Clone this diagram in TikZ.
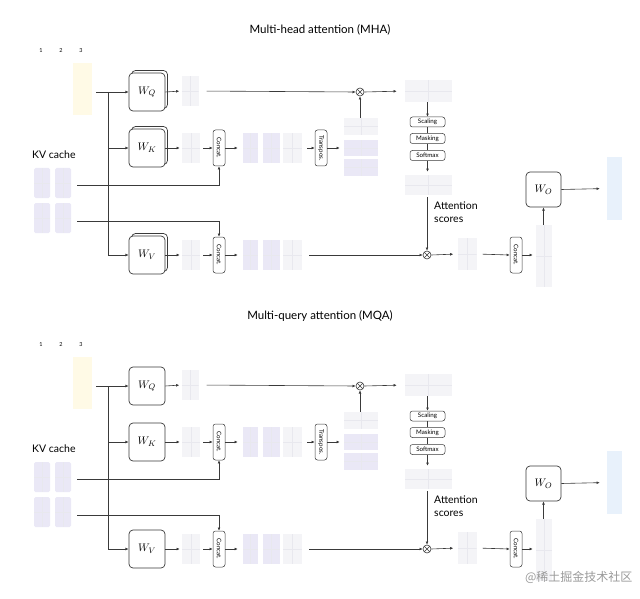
\documentclass[tikz,border=0pt]{standalone}
\usepackage{graphicx}
\usepackage{fontspec}
\setmainfont{Lato}
\newfontfamily\cjkfont{Noto Sans CJK SC}
\usetikzlibrary{arrows.meta}
\definecolor{ln}{HTML}{3A3A3A}
\definecolor{pur}{HTML}{EAE8F6}
\definecolor{gry}{HTML}{F4F4F7}
\definecolor{gridc}{HTML}{E8E8EE}
\definecolor{yel}{HTML}{FFFAE6}
\definecolor{blu}{HTML}{E8F1FB}
\tikzset{
  conn/.style={draw=ln, line width=0.6pt},
  arr/.style={conn, -{Latex[length=3.2pt,width=2.8pt]}},
  wbox/.style={draw=ln, line width=0.7pt, rounded corners=4pt, fill=white,
    minimum width=36pt, minimum height=38pt, inner sep=0, font=\fontsize{11}{13}\selectfont},
  tag/.style={draw=ln, line width=0.5pt, rounded corners=2.5pt, fill=white,
    font=\fontsize{6.2}{7}\selectfont, inner sep=0.3pt},
  htag/.style={tag, minimum width=35pt, minimum height=10pt},
  vtag/.style={tag, minimum width=12pt, minimum height=36pt},
  mat/.style={draw=none, fill=gry, inner sep=0,
    path picture={\draw[gridc, line width=0.4pt]
      (path picture bounding box.north) -- (path picture bounding box.south)
      (path picture bounding box.west) -- (path picture bounding box.east);}},
  pmat/.style={mat, fill=pur},
  num/.style={font=\fontsize{5.5}{6}\selectfont, inner sep=0},
  lbl/.style={font=\fontsize{10.5}{13}\selectfont, inner sep=0},
  mult/.style={circle, draw=ln, line width=0.6pt, minimum size=8pt, inner sep=0, fill=white,
    path picture={\draw[ln, line width=0.5pt]
      (path picture bounding box.south west) -- (path picture bounding box.north east)
      (path picture bounding box.north west) -- (path picture bounding box.south east);}},
}
\begin{document}
\begin{tikzpicture}[x=1pt, y=-1pt]
\useasboundingbox (0,0) rectangle (640,599);
\node[font=\fontsize{11.5}{13}\selectfont] (t1) at (320,30) {Multi-head attention (MHA)};
\node[font=\fontsize{11.5}{13}\selectfont] (t2) at (320,316) {Multi-query attention (MQA)};
\foreach \p/\off/\st in {a/0/1, b/294/0}{
\begin{scope}[yshift=-\off pt]
  % input
  \node[num] (\p-n1) at (41,51) {1};
  \node[num] (\p-n2) at (61,51) {2};
  \node[num] (\p-n3) at (81,51) {3};
  \node[fill=yel, minimum width=19pt, minimum height=52pt, inner sep=0] (\p-in) at (82.5,89) {};
  \coordinate (\p-s) at (96,92);
  \coordinate (\p-j) at (108,92);
  \coordinate (\p-jk) at (108,148);
  \coordinate (\p-jv) at (108,255);
  % weight boxes
  \ifnum\st=1
    \node[wbox] (\p-wqb) at (149.5,89.5) {};
    \node[wbox] (\p-wkb) at (149.5,145.5) {};
    \node[wbox] (\p-wvb) at (149.5,252.5) {};
  \fi
  \node[wbox] (\p-wq) at (147,92) {$W_Q$};
  \node[wbox] (\p-wk) at (147,148) {$W_K$};
  \node[wbox] (\p-wv) at (147,255) {$W_V$};
  \draw[arr] (\p-s) -- (\p-wq.west);
  \draw[conn] (\p-j) -- (\p-jv);
  \draw[arr] (\p-jk) -- (\p-wk.west);
  \draw[arr] (\p-jv) -- (\p-wv.west);
  % KV cache
  \node[lbl, anchor=west] (\p-kvl) at (32,155) {KV cache};
  \node[pmat, minimum width=16pt, minimum height=30pt, rounded corners=1.5pt] (\p-kc1) at (42,183) {};
  \node[pmat, minimum width=16pt, minimum height=30pt, rounded corners=1.5pt] (\p-kc2) at (63,183) {};
  \node[pmat, minimum width=16pt, minimum height=30pt, rounded corners=1.5pt] (\p-vc1) at (42,218) {};
  \node[pmat, minimum width=16pt, minimum height=30pt, rounded corners=1.5pt] (\p-vc2) at (63,218) {};
  \coordinate (\p-kcs) at (77,185);
  \coordinate (\p-vcs) at (77,221);
  % Q row
  \node[mat, minimum width=17pt, minimum height=30pt] (\p-qm) at (190,91) {};
  \node[mult] (\p-x1) at (360,92) {};
  \draw[arr, shorten >=2pt] (\p-wq.east) -- (\p-qm.west);
  \draw[arr, shorten <=8pt] (\p-qm.east) -- (\p-x1.west);
  % K row
  \node[mat, minimum width=18pt, minimum height=30pt] (\p-km) at (191,148) {};
  \node[vtag] (\p-ck) at (219,148) {\rotatebox{-90}{Concat.}};
  \node[pmat, minimum width=15pt, minimum height=30pt] (\p-k1) at (250.5,148) {};
  \node[pmat, minimum width=17pt, minimum height=30pt] (\p-k2) at (271.5,148) {};
  \node[mat, minimum width=19pt, minimum height=30pt] (\p-k3) at (292.5,148) {};
  \node[vtag] (\p-tr) at (321,148) {\rotatebox{-90}{Transpos.}};
  \node[mat, minimum width=34pt, minimum height=17pt] (\p-kt1) at (361,126.5) {};
  \node[pmat, minimum width=34pt, minimum height=16pt] (\p-kt2) at (361,148) {};
  \node[pmat, minimum width=34pt, minimum height=17pt] (\p-kt3) at (361,167.5) {};
  \draw[arr, shorten >=2pt] (\p-wk.east) -- (\p-km.west);
  \draw[arr, shorten <=3pt] (\p-km.east) -- (\p-ck.west);
  \draw[arr, shorten >=5pt] (\p-ck.east) -- (\p-k1.west);
  \draw[arr, shorten <=5pt] (\p-k3.east) -- (\p-tr.west);
  \draw[arr, shorten >=4pt] (\p-tr.east) -- (\p-kt2.west);
  \draw[arr] (\p-x1 |- \p-kt1.north) -- (\p-x1.south);
  \draw[arr] (\p-kcs) -| (\p-ck.south);
  % V row
  \node[mat, minimum width=18pt, minimum height=30pt] (\p-vm) at (191,255) {};
  \node[vtag] (\p-cv) at (219,255) {\rotatebox{-90}{Concat.}};
  \node[pmat, minimum width=15pt, minimum height=30pt] (\p-v1) at (250.5,255) {};
  \node[pmat, minimum width=17pt, minimum height=30pt] (\p-v2) at (271.5,255) {};
  \node[mat, minimum width=19pt, minimum height=30pt] (\p-v3) at (292.5,255) {};
  \node[mult] (\p-x2) at (427,255) {};
  \draw[arr, shorten >=2pt] (\p-wv.east) -- (\p-vm.west);
  \draw[arr, shorten <=3pt] (\p-vm.east) -- (\p-cv.west);
  \draw[arr, shorten >=5pt] (\p-cv.east) -- (\p-v1.west);
  \draw[arr, shorten <=7pt] (\p-v3.east) -- (\p-x2.west);
  \draw[arr] (\p-vcs) -| (\p-cv.north);
  % attention
  \node[mat, minimum width=47pt, minimum height=22pt] (\p-sm) at (428.5,91) {};
  \node[htag] (\p-sc) at (427.5,122) {Scaling};
  \node[htag] (\p-ma) at (427.5,138.5) {Masking};
  \node[htag] (\p-so) at (427.5,155.5) {Softmax};
  \node[mat, minimum width=47pt, minimum height=20pt] (\p-am) at (428.5,185) {};
  \node[lbl, anchor=west, align=left] (\p-as) at (434,212) {Attention\\scores};
  \draw[arr, shorten >=8pt] (\p-x1.east) -- (\p-sm.west);
  \draw[arr] (\p-sm.south -| \p-sc.north) -- (\p-sc.north);
  \draw[conn] (\p-sc.south) -- (\p-ma.north);
  \draw[conn] (\p-ma.south) -- (\p-so.north);
  \draw[arr, shorten >=3pt] (\p-so.south) -- (\p-so.south |- \p-am.north);
  \draw[arr, shorten <=2pt] (\p-x2 |- \p-am.south) -- (\p-x2.north);
  % output
  \node[mat, minimum width=19pt, minimum height=32pt] (\p-om) at (467,254) {};
  \node[vtag] (\p-co) at (516,255) {\rotatebox{-90}{Concat.}};
  \node[mat, minimum width=16pt, minimum height=62pt] (\p-oc) at (544,256) {};
  \node[wbox, minimum width=35pt, minimum height=35pt] (\p-wo) at (543.5,189.5) {$W_O$};
  \node[fill=blu, inner sep=0, minimum width=15pt, minimum height=63pt] (\p-bc) at (614.5,188.5) {};
  \draw[arr, shorten >=4pt] (\p-x2.east) -- (\p-om.west);
  \draw[arr, shorten <=6pt] (\p-om.east) -- (\p-co.west);
  \draw[arr, shorten >=3pt] (\p-co.east) -- (\p-co.east -| \p-oc.west);
  \draw[arr] (\p-wo |- \p-oc.north) -- (\p-wo.south);
  \draw[arr, shorten >=7pt] (\p-wo.east) -- (\p-bc.west);
\end{scope}
}
\node[text=gray!80, font=\cjkfont\fontsize{12}{14}\selectfont, anchor=east] (wm) at (636,577) {@稀土掘金技术社区};
\end{tikzpicture}
\end{document}
